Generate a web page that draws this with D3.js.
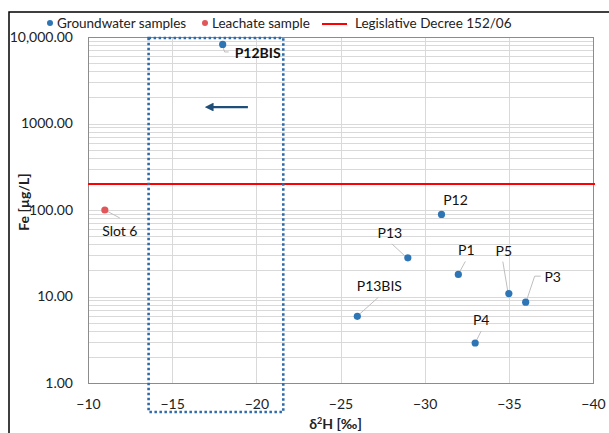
<!DOCTYPE html>
<html><head><meta charset="utf-8">
<script src="https://cdn.jsdelivr.net/npm/d3@7"></script>
<style>
body{margin:0;background:#fff;}
svg{display:block;font-family:Lato,"Open Sans",sans-serif;}
</style></head>
<body><svg id="c" width="609" height="433"></svg>
<script>
// ---- data ----
const gwLabels = ["P12BIS","P12","P13","P1","P5","P3","P13BIS","P4"];
const gwD2H    = [-18, -31, -29, -32, -35, -36, -26, -33];
const gwFe     = [8200, 89, 28, 18, 10.8, 8.6, 5.9, 2.9];
const lcLabels = ["Slot 6"];
const lcD2H    = [-11];
const lcFe     = [100];
const limitFe  = 200;
const xTicks   = [-10,-15,-20,-25,-30,-35,-40];
const yTicks   = [1,10,100,1000,10000];
const legendItems = ["Groundwater samples","Leachate sample","Legislative Decree 152/06"];
const boxD2H   = [-13.6, -21.6];   // highlighted range
const arrowD2H = [-19.5, -17.0];   // tail, head
const arrowFe  = 1550;

// ---- layout (label offsets in px relative to point) ----
const labelLayout = {
  "P12BIS": {dx:12, dy:9, anchor:"start", bold:true, leader:[[0,2],[2,7.5],[6,7.5]]},
  "P12":    {dx:14, dy:-14, anchor:"middle"},
  "P13":    {dx:-18, dy:-25, anchor:"middle", leader:[[-16,-14],[-2,-1]]},
  "P1":     {dx:8, dy:-24, anchor:"middle", leader:[[7,-13],[1,-2]]},
  "P5":     {dx:-5, dy:-43, anchor:"middle", leader:[[-6,-32],[-1,-2]]},
  "P3":     {dx:27, dy:-25, anchor:"middle", leader:[[15,-26],[9,-26],[1,-2]]},
  "P13BIS": {dx:22, dy:-30, anchor:"middle", leader:[[21,-19],[2,-2]]},
  "P4":     {dx:6, dy:-23, anchor:"middle", leader:[[6,-12],[1,-2]]},
  "Slot 6": {dx:15, dy:21, anchor:"middle", leader:[[2,1],[15,8]]}
};

const svg = d3.select("#c");
const L=88, R=593, T=37, B=383;
const x = d3.scaleLinear().domain([-10,-40]).range([L,R]);
const y = d3.scaleLog().domain([1,10000]).range([B,T]);
const blue="#2e75b6", red="#e15759", grid="#d9d9d9", axisC="#8c8c8c";

// outer border
svg.append("rect").attr("x",9).attr("y",12).attr("width",640).attr("height",460)
  .attr("fill","none").attr("stroke","#000").attr("stroke-width",1.5);

// gridlines horizontal (major + minor)
const minor=[];
for(let e=0;e<4;e++) for(let m=1;m<10;m++) minor.push(m*Math.pow(10,e));
minor.push(10000);
svg.append("g").selectAll("line").data(minor).join("line")
  .attr("x1",L).attr("x2",R).attr("y1",d=>Math.round(y(d))+0.5).attr("y2",d=>Math.round(y(d))+0.5)
  .attr("stroke",grid).attr("stroke-width",1);
svg.append("g").selectAll("line").data(xTicks).join("line")
  .attr("y1",T).attr("y2",B).attr("x1",d=>Math.round(x(d))+0.5).attr("x2",d=>Math.round(x(d))+0.5)
  .attr("stroke",grid).attr("stroke-width",1);

// plot frame
svg.append("rect").attr("x",L+0.5).attr("y",T+0.5).attr("width",R-L).attr("height",B-T)
  .attr("fill","none").attr("stroke",axisC).attr("stroke-width",1);

// axes
const fmtY = d=> d>=10000 ? d3.format(",.2f")(d) : d3.format(".2f")(d);
const ya = svg.append("g").attr("transform",`translate(${L},0)`)
  .call(d3.axisLeft(y).tickValues(yTicks).tickFormat(fmtY).tickSize(0).tickPadding(15));
ya.select(".domain").remove();
ya.selectAll("text").attr("font-size",14).attr("fill","#222").attr("font-family","Lato");
const xa = svg.append("g").attr("transform",`translate(0,${B})`)
  .call(d3.axisBottom(x).tickValues(xTicks).tickFormat(d3.format("d")).tickSize(0).tickPadding(16));
xa.select(".domain").remove();
xa.selectAll("text").attr("font-size",14).attr("fill","#222").attr("font-family","Lato");

// axis titles
svg.append("text").attr("x",(L+R)/2-5).attr("y",429).attr("text-anchor","middle")
  .attr("font-size",14).attr("font-weight","bold").attr("fill","#222")
  .html('δ<tspan baseline-shift="super" font-size="9">2</tspan>H [‰]');
svg.append("text").attr("transform","translate(29,202) rotate(-90)").attr("text-anchor","middle")
  .attr("font-size",14).attr("font-weight","bold").attr("fill","#222").text("Fe [µg/L]");

// limit line
svg.append("line").attr("x1",L).attr("x2",R+2).attr("y1",y(limitFe)).attr("y2",y(limitFe))
  .attr("stroke","#ff0000").attr("stroke-width",2);

// highlighted range box
svg.append("rect").attr("x",x(boxD2H[0])).attr("y",y(10000)+1)
  .attr("width",x(boxD2H[1])-x(boxD2H[0])).attr("height",412-(y(10000)+1))
  .attr("fill","none").attr("stroke","#2e6aa6").attr("stroke-width",2.6).attr("stroke-dasharray","2.5,2.5");

// arrow
svg.append("defs").append("marker").attr("id","ah").attr("viewBox","0 0 10 10").attr("refX",2).attr("refY",5)
  .attr("markerWidth",4).attr("markerHeight",4).attr("orient","auto")
  .append("path").attr("d","M0,0 L10,5 L0,10 z").attr("fill","#1f4e79");
svg.append("line").attr("x1",x(arrowD2H[0])).attr("x2",x(arrowD2H[1])+6).attr("y1",y(arrowFe)).attr("y2",y(arrowFe))
  .attr("stroke","#1f4e79").attr("stroke-width",2.2).attr("marker-end","url(#ah)");

// points
function drawSeries(labels,xs,ys,color){
  const g=svg.append("g");
  labels.forEach((lb,i)=>{
    const px=x(xs[i]), py=y(ys[i]), lay=labelLayout[lb];
    if(lay.leader){
      const pts=lay.leader.map(p=>[px+p[0],py+p[1]]);
      g.append("path").attr("d",d3.line()(pts)).attr("fill","none").attr("stroke","#bfbfbf").attr("stroke-width",1);
    }
    g.append("text").attr("x",px+lay.dx).attr("y",py+lay.dy).attr("dy","0.35em")
      .attr("text-anchor",lay.anchor).attr("font-size",14).attr("fill","#111")
      .attr("font-weight",lay.bold?"bold":"normal").text(lb);
  });
  g.selectAll("circle").data(labels).join("circle")
    .attr("cx",(d,i)=>x(xs[i])).attr("cy",(d,i)=>y(ys[i])).attr("r",3.6).attr("fill",color);
}
drawSeries(gwLabels,gwD2H,gwFe,blue);
drawSeries(lcLabels,lcD2H,lcFe,red);

// legend
const lg=svg.append("g").attr("font-size",13.5).attr("fill","#222");
lg.append("circle").attr("cx",50).attr("cy",23).attr("r",3).attr("fill",blue);
lg.append("text").attr("x",57).attr("y",23).attr("dy","0.35em").text(legendItems[0]);
lg.append("circle").attr("cx",205).attr("cy",23).attr("r",3).attr("fill",red);
lg.append("text").attr("x",212).attr("y",23).attr("dy","0.35em").text(legendItems[1]);
lg.append("line").attr("x1",322).attr("x2",347).attr("y1",24).attr("y2",24).attr("stroke","#ff0000").attr("stroke-width",2);
lg.append("text").attr("x",355).attr("y",23).attr("dy","0.35em").text(legendItems[2]);
</script></body></html>
